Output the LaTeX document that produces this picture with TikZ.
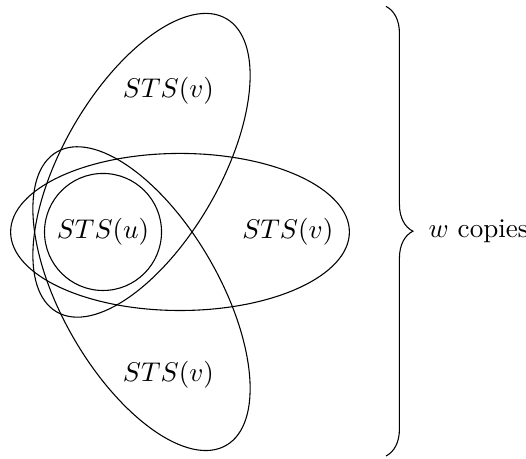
\documentclass[tikz,border=0pt]{standalone}
\usetikzlibrary{decorations.pathreplacing, positioning}

\tikzset{
	copy/.style={draw},
	lab/.style={inner sep=0pt}
}

\begin{document}
\begin{tikzpicture}

		\useasboundingbox (-1.338,-2.948) rectangle (5.494,3.013);

		\node[circle, draw, minimum size=1.52cm, inner sep=0pt] (u) {$STS(u)$};

		\draw[copy] (1,0) ellipse (2.2 and 1.02);
		\draw[copy, rotate=60] (1,0) ellipse (2.2 and 1.02);
		\draw[copy, rotate=-60] (1,0) ellipse (2.2 and 1.02);

		\node[lab] (v1) at (0.85,1.84) {$STS(v)$};
		\node[lab] (v2) at (2.40,0) {$STS(v)$};
		\node[lab] (v3) at (0.85,-1.86) {$STS(v)$};

		\coordinate (top) at (3.675,2.93);
		\coordinate (bot) at (3.675,-2.91);
		\draw[decorate, decoration={brace, amplitude=0.35cm}]
		(top) -- (bot) node[midway, right=0.43cm] (w) {$w$ copies};
		\end{tikzpicture}
\end{document}
